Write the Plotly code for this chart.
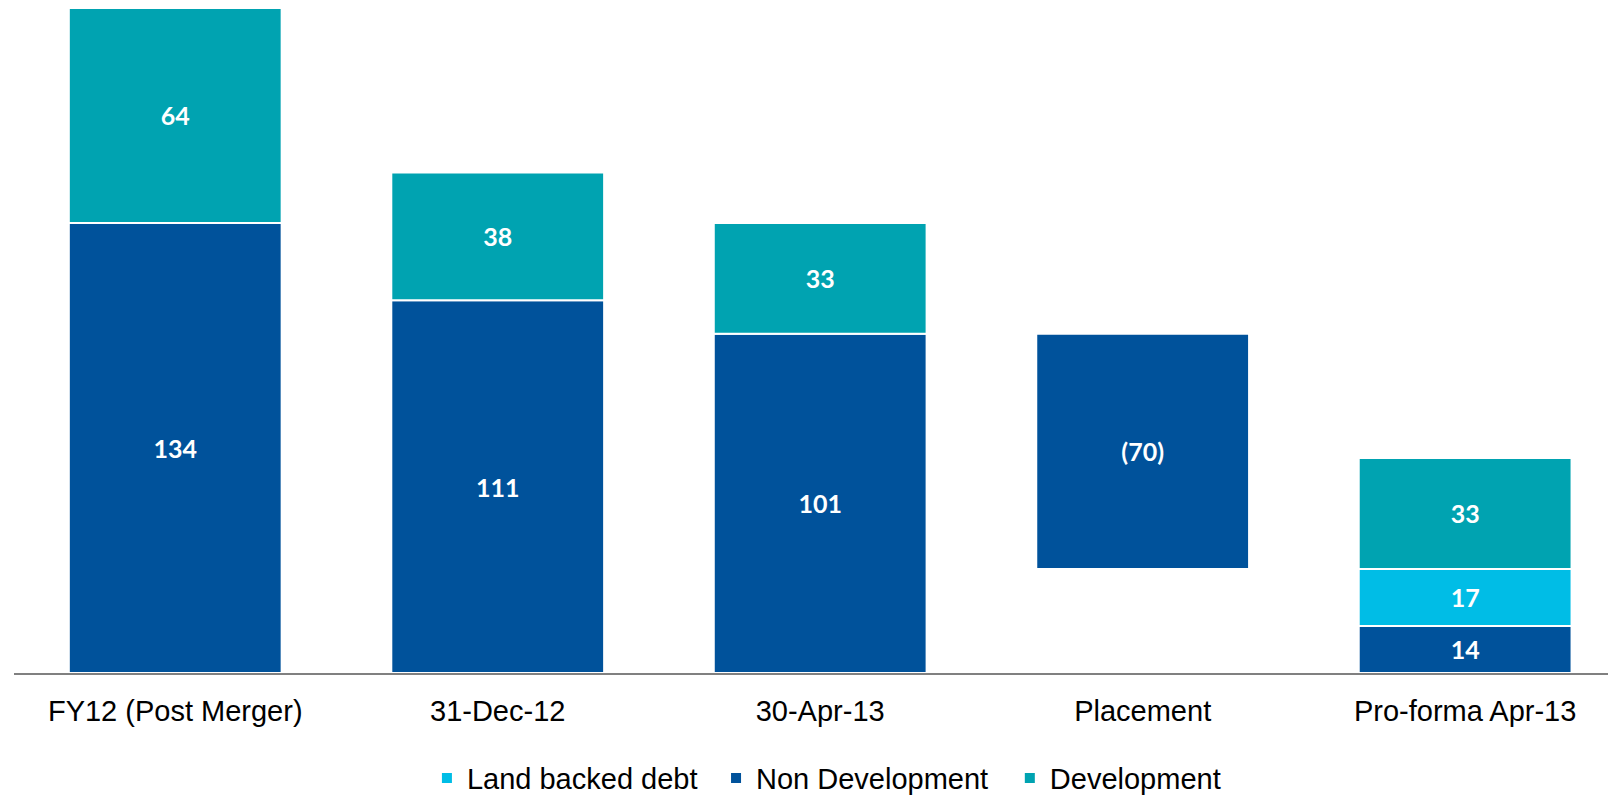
import plotly.graph_objects as go

categories = ["FY12 (Post Merger)", "31-Dec-12", "30-Apr-13", "Placement", "Pro-forma Apr-13"]
non_development = [134, 111, 101, -70, 14]
land_backed = [0, 0, 0, 0, 17]
development = [64, 38, 33, 0, 33]

# Placement is a floating decrease from 30-Apr-13 non-development level
prev_level = non_development[2]
nd_heights = [abs(v) for v in non_development]
nd_base = [0, 0, 0, prev_level + non_development[3], 0]
lb_base = [0, 0, 0, 0, non_development[4]]
dev_base = [non_development[i] + land_backed[i] if non_development[i] > 0 else 0 for i in range(5)]


def fmt(v):
    if v == 0:
        return ""
    return f"({abs(v)})" if v < 0 else str(v)


label_font = dict(family="Lato, Open Sans, sans-serif", size=25, color="white")
common = dict(width=0.66, textposition="inside", insidetextanchor="middle",
              textfont=label_font, marker_line=dict(color="white", width=2),
              textangle=0, cliponaxis=False)

fig = go.Figure()
fig.add_trace(go.Bar(name="Land backed debt", x=categories, y=land_backed, base=lb_base,
                     text=[fmt(v) for v in land_backed], marker_color="#00BDE6",
                     legend="legend", **common))
fig.add_trace(go.Bar(name="Non Development", x=categories, y=nd_heights, base=nd_base,
                     text=[fmt(v) for v in non_development], marker_color="#00529B",
                     legend="legend2", **common))
fig.add_trace(go.Bar(name="Development", x=categories, y=development, base=dev_base,
                     text=[fmt(v) for v in development], marker_color="#00A3B1",
                     legend="legend3", **common))

fig.update_traces(texttemplate="<b>%{text}</b>")


def leg(xpos):
    return dict(orientation="h", xref="container", yref="container", x=xpos, xanchor="left",
                y=0.025, yanchor="middle", font=dict(size=29), itemwidth=30,
                borderwidth=0, bgcolor="rgba(0,0,0,0)")


fig.update_layout(
    width=1608, height=798,
    barmode="overlay",
    plot_bgcolor="white", paper_bgcolor="white",
    margin=dict(l=14, r=0, t=8, b=125, autoexpand=False),
    font=dict(family="Liberation Sans, Arial, sans-serif", size=29, color="black"),
    xaxis=dict(range=[-0.5, 4.443], showline=True, linecolor="#808080", linewidth=2,
               ticks="", ticklabelstandoff=11, tickfont=dict(size=29), automargin=False),
    yaxis=dict(range=[0, 198], visible=False, showgrid=False, zeroline=False),
    legend=leg(0.2655),
    legend2=leg(0.4453),
    legend3=leg(0.628),
    showlegend=True,
)

fig.write_html("out.html")
